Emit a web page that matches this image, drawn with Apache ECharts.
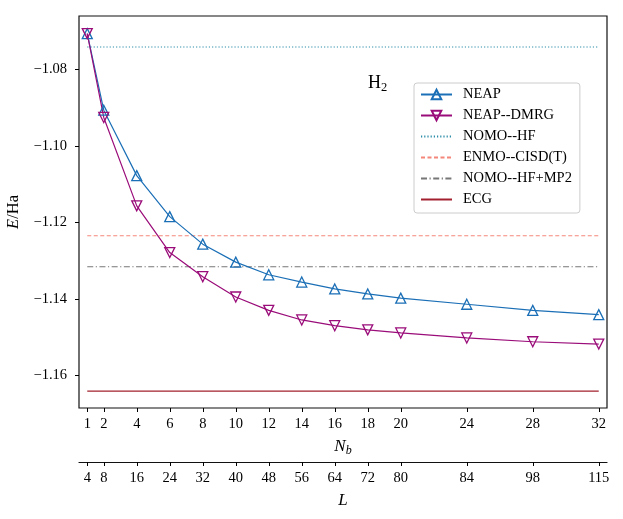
<!DOCTYPE html>
<html>
<head>
<meta charset="utf-8">
<script src="https://cdn.jsdelivr.net/npm/echarts@6/dist/echarts.min.js"></script>
<style>
  html, body { margin: 0; padding: 0; background: #fff; }
  #main { width: 623px; height: 519px; }
</style>
</head>
<body>
<div id="main"></div>
<script>
// basis size N_b and the matching lattice size L
var nb = [1, 2, 4, 6, 8, 10, 12, 14, 16, 18, 20, 24, 28, 32];
var lVals = [4, 8, 16, 24, 32, 40, 48, 56, 64, 72, 80, 84, 98, 115];

// energies (Ha)
var neap = [-1.0707, -1.0907, -1.1078, -1.1185, -1.1257, -1.1304, -1.1337, -1.1356, -1.1374, -1.1387, -1.1398, -1.1414, -1.1430, -1.1441];
var neapDmrg = [-1.0707, -1.0926, -1.1157, -1.1279, -1.1342, -1.1395, -1.1430, -1.1455, -1.1470, -1.1481, -1.1489, -1.1502, -1.1512, -1.1518];

// reference energies
var nomoHf = -1.0742;
var enmoCisdt = -1.1235;
var nomoMp2 = -1.1316;
var ecg = -1.1641;

var yTicks = [-1.16, -1.14, -1.12, -1.10, -1.08];

var FONT = 'Liberation Serif';
var pair = function (xs, ys) { return xs.map(function (x, i) { return [x, ys[i]]; }); };
var flat = function (v) { return [[nb[0], v], [nb[nb.length - 1], v]]; };
var minus = function (v) { return (v < 0 ? '\u2212' : '') + Math.abs(v).toFixed(2); };
// legend entry for a plain reference line: no marker
var lineOnly = function (name) { return { name: name, itemStyle: { opacity: 0 } }; };

var myChart = echarts.init(document.getElementById('main'));
myChart.setOption({
    animation: false,
    textStyle: { fontFamily: FONT, color: '#000' },
    grid: {
        left: 79, top: 16, width: 528, height: 392,
        outerBoundsMode: 'none',
        show: true, borderColor: '#111', borderWidth: 1.2,
        backgroundColor: 'transparent'
    },
    graphic: [{
        type: 'text', left: 368, top: 74,
        style: {
            text: '{a|H}{b|2}',
            rich: {
                a: { fontFamily: FONT, fontSize: 18, fill: '#000' },
                b: { fontFamily: FONT, fontSize: 12.5, fill: '#000', padding: [9, 0, 0, 0] }
            }
        }
    }],
    legend: {
        orient: 'vertical', left: 414, top: 83,
        padding: [4, 8, 6, 6],
        itemWidth: 31, itemHeight: 12, itemGap: 6,
        borderColor: '#ccc', borderWidth: 1, borderRadius: 3,
        backgroundColor: '#fff',
        textStyle: { fontFamily: FONT, fontSize: 14.5, color: '#000', padding: [0, 0, 0, 6] },
        data: ['NEAP', 'NEAP--DMRG', lineOnly('NOMO--HF'), lineOnly('ENMO--CISD(T)'), lineOnly('NOMO--HF+MP2'), lineOnly('ECG')]
    },
    xAxis: [{
        type: 'value', min: 0.5, max: 32.5,
        axisLine: { show: false },
        splitLine: { show: false },
        axisTick: { show: true, length: 4, lineStyle: { color: '#000' }, customValues: nb },
        axisLabel: { fontFamily: FONT, fontSize: 14.5, color: '#000', margin: 9, customValues: nb },
        name: '{i|N}{s|b}', nameLocation: 'middle', nameGap: 29,
        nameTextStyle: {
            rich: {
                i: { fontFamily: FONT, fontStyle: 'italic', fontSize: 17, color: '#000' },
                s: { fontFamily: FONT, fontStyle: 'italic', fontSize: 12, color: '#000', padding: [8, 0, 0, 0] }
            }
        }
    }, {
        type: 'value', min: 0.5, max: 32.5, position: 'bottom', offset: 54,
        axisLine: { show: true, lineStyle: { color: '#111', width: 1.2 } },
        splitLine: { show: false },
        axisTick: { show: true, length: 4, lineStyle: { color: '#000' }, customValues: nb },
        axisLabel: {
            fontFamily: FONT, fontSize: 14.5, color: '#000', margin: 9, customValues: nb,
            formatter: function (v) { var k = nb.indexOf(v); return k < 0 ? '' : String(lVals[k]); }
        },
        name: 'L', nameLocation: 'middle', nameGap: 30,
        nameTextStyle: { fontFamily: FONT, fontStyle: 'italic', fontSize: 17, color: '#000' }
    }],
    yAxis: {
        type: 'value', min: -1.1685, max: -1.0661,
        axisLine: { show: false },
        splitLine: { show: false },
        axisTick: { show: true, length: 4, lineStyle: { color: '#000' }, customValues: yTicks },
        axisLabel: { fontFamily: FONT, fontSize: 14.5, color: '#000', margin: 12, customValues: yTicks, formatter: minus },
        name: '{i|E}/Ha', nameLocation: 'middle', nameGap: 52, nameRotate: 90,
        nameTextStyle: {
            rich: {
                i: { fontFamily: FONT, fontStyle: 'italic', fontSize: 16.5, color: '#000' }
            },
            fontFamily: FONT, fontSize: 16.5, color: '#000'
        }
    },
    series: [
        {
            name: 'NEAP', type: 'line', data: pair(nb, neap),
            symbol: 'triangle', symbolSize: 10,
            lineStyle: { color: '#1b6fb6', width: 1.2 },
            itemStyle: { color: 'rgba(255,255,255,0)', borderColor: '#1b6fb6', borderWidth: 1.3 },
            z: 5
        },
        {
            name: 'NEAP--DMRG', type: 'line', data: pair(nb, neapDmrg),
            symbol: 'triangle', symbolRotate: 180, symbolSize: 10,
            lineStyle: { color: '#9a0c79', width: 1.2 },
            itemStyle: { color: 'rgba(255,255,255,0)', borderColor: '#9a0c79', borderWidth: 1.3 },
            z: 5
        },
        {
            name: 'NOMO--HF', type: 'line', data: flat(nomoHf), showSymbol: false, symbol: 'none',
            lineStyle: { color: '#2a8ca6', width: 1.1, type: [1.2, 2] },
            itemStyle: { color: '#2a8ca6' }
        },
        {
            name: 'ENMO--CISD(T)', type: 'line', data: flat(enmoCisdt), showSymbol: false, symbol: 'none',
            lineStyle: { color: '#f5867a', width: 1.1, type: [4, 2.5] },
            itemStyle: { color: '#f5867a' }
        },
        {
            name: 'NOMO--HF+MP2', type: 'line', data: flat(nomoMp2), showSymbol: false, symbol: 'none',
            lineStyle: { color: '#777777', width: 1.1, type: [6, 2.5, 1.2, 2.5] },
            itemStyle: { color: '#777777' }
        },
        {
            name: 'ECG', type: 'line', data: flat(ecg), showSymbol: false, symbol: 'none',
            lineStyle: { color: '#a3202e', width: 1.2 },
            itemStyle: { color: '#a3202e' }
        }
    ]
});
</script>
</body>
</html>
